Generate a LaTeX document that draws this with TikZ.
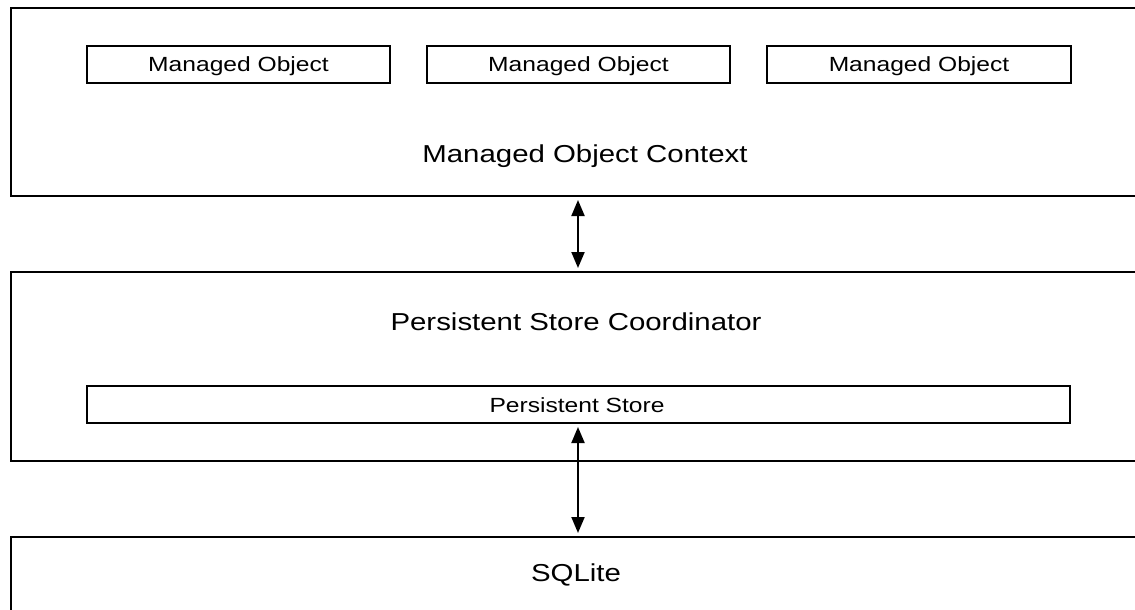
\documentclass[tikz,border=0pt]{standalone}
\usepackage{fontspec}
\setmainfont{Liberation Sans}[FakeStretch=1.2]
\usetikzlibrary{arrows.meta}
\tikzset{
  bigbox/.style={draw=black, line width=2pt, inner sep=0pt, minimum width=1134pt},
  smallbox/.style={draw=black, line width=2pt, inner sep=0pt, minimum height=37pt},
  boxtext/.style={inner sep=0pt, font=\fontsize{20.5}{24}\selectfont},
  bigtext/.style={inner sep=0pt, anchor=base, font=\fontsize{24.5}{28}\selectfont},
  arr/.style={{Triangle[length=16pt,width=13pt]}-{Triangle[length=16pt,width=13pt]}, line width=2pt, shorten <=3pt, shorten >=3pt}
}
\begin{document}
\begin{tikzpicture}[x=1pt,y=-1pt]
\clip (0,0) rectangle (1135,610);
\fill[white] (0,0) rectangle (1135,610);
% big layers
\node[bigbox, minimum height=188pt] (ctx) at (578,102) {};
\node[bigbox, minimum height=189pt] (psc) at (578,366.5) {};
\node[bigbox, minimum height=100pt] (sql) at (578,587) {};
% managed objects
\node[smallbox, minimum width=303pt] (mo1) at (238.5,64.5) {};
\node[smallbox, minimum width=303pt] (mo2) at (578.5,64.5) {};
\node[smallbox, minimum width=304pt] (mo3) at (919,64.5) {};
\node[boxtext, anchor=base] (mo1t) at (238.5,71) {Managed Object};
\node[boxtext, anchor=base] (mo2t) at (578.5,71) {Managed Object};
\node[boxtext, anchor=base] (mo3t) at (919,71) {Managed Object};
\node[bigtext] (ctxt) at (585,162) {Managed Object Context};
% coordinator
\node[bigtext] (psct) at (576,330) {Persistent Store Coordinator};
\node[smallbox, minimum width=983pt] (ps) at (578,404.5) {};
\node[boxtext, anchor=base] (pst) at (577,412) {Persistent Store};
% sqlite
\node[bigtext] (sqlt) at (576,581) {SQLite};
% arrows
\draw[arr] (ctx.south) -- (psc.north);
\draw[arr] (ps.south) -- (sql.north);
\end{tikzpicture}
\end{document}
